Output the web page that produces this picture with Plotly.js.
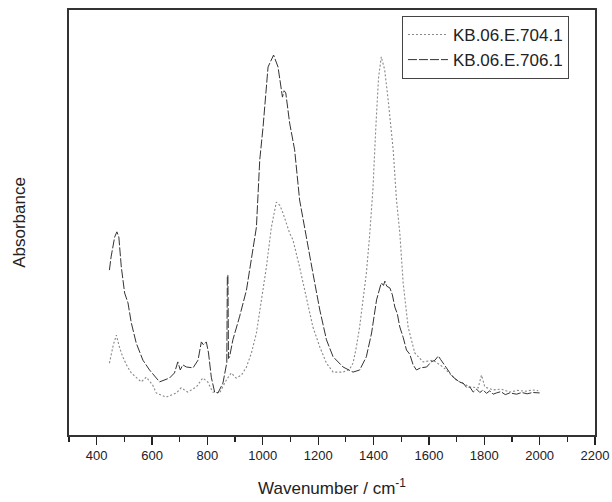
<!DOCTYPE html>
<html>
<head>
<meta charset="utf-8">
<script src="https://cdn.plot.ly/plotly-3.0.1.min.js"></script>
<style>html,body{margin:0;padding:0;background:#fff;}#chart{width:612px;height:502px;}</style>
</head>
<body>
<div id="chart"></div>
<script>
// KB.06.E.704.1 (dotted grey)
const wn704 = [446, 460, 471, 482, 494, 510, 525, 545, 561, 579, 602, 615, 651, 688, 705, 729, 760, 783, 801, 819, 844, 868, 886, 904, 923, 941, 959, 977, 995, 1013, 1031, 1049, 1062, 1073, 1097, 1109, 1133, 1158, 1181, 1206, 1230, 1254, 1290, 1314, 1326, 1338, 1350, 1362, 1374, 1386, 1398, 1408, 1418, 1428, 1440, 1453, 1471, 1483, 1495, 1507, 1525, 1549, 1579, 1615, 1651, 1700, 1748, 1778, 1790, 1802, 1832, 1860, 1893, 1920, 1950, 1975, 1995];
const abs704 = [0.169, 0.212, 0.235, 0.207, 0.184, 0.162, 0.146, 0.134, 0.125, 0.136, 0.118, 0.099, 0.089, 0.099, 0.111, 0.101, 0.113, 0.134, 0.125, 0.101, 0.099, 0.129, 0.146, 0.134, 0.141, 0.160, 0.193, 0.240, 0.318, 0.395, 0.489, 0.548, 0.540, 0.522, 0.475, 0.459, 0.395, 0.318, 0.254, 0.207, 0.169, 0.148, 0.148, 0.155, 0.169, 0.207, 0.255, 0.318, 0.380, 0.470, 0.580, 0.720, 0.840, 0.890, 0.860, 0.788, 0.671, 0.553, 0.475, 0.358, 0.254, 0.193, 0.172, 0.176, 0.160, 0.129, 0.113, 0.111, 0.141, 0.113, 0.106, 0.108, 0.101, 0.105, 0.103, 0.106, 0.104];

// KB.06.E.706.1 (dashed dark)
const wn706 = [446, 452, 465, 473, 480, 489, 501, 513, 525, 543, 567, 591, 627, 663, 681, 693, 702, 711, 724, 748, 766, 778, 786, 796, 804, 814, 826, 838, 856, 866, 870, 872, 874, 876, 880, 892, 916, 941, 959, 977, 989, 1001, 1019, 1039, 1055, 1071, 1077, 1083, 1097, 1115, 1133, 1158, 1181, 1206, 1230, 1254, 1290, 1326, 1350, 1374, 1393, 1411, 1428, 1436, 1441, 1448, 1459, 1468, 1477, 1486, 1495, 1507, 1519, 1531, 1543, 1555, 1570, 1592, 1608, 1622, 1634, 1642, 1651, 1665, 1676, 1688, 1700, 1712, 1724, 1736, 1748, 1760, 1772, 1784, 1796, 1808, 1820, 1832, 1844, 1860, 1876, 1892, 1917, 1935, 1955, 1975, 2000];
const abs706 = [0.388, 0.419, 0.466, 0.478, 0.466, 0.395, 0.334, 0.311, 0.264, 0.216, 0.176, 0.153, 0.125, 0.134, 0.146, 0.172, 0.153, 0.165, 0.160, 0.158, 0.176, 0.219, 0.212, 0.219, 0.193, 0.136, 0.101, 0.099, 0.122, 0.160, 0.170, 0.376, 0.376, 0.180, 0.184, 0.224, 0.278, 0.341, 0.412, 0.489, 0.647, 0.725, 0.866, 0.894, 0.866, 0.795, 0.810, 0.805, 0.734, 0.671, 0.553, 0.459, 0.381, 0.294, 0.224, 0.184, 0.160, 0.148, 0.153, 0.184, 0.240, 0.318, 0.358, 0.352, 0.362, 0.350, 0.346, 0.330, 0.301, 0.285, 0.254, 0.230, 0.200, 0.190, 0.165, 0.153, 0.158, 0.160, 0.172, 0.176, 0.186, 0.178, 0.169, 0.155, 0.146, 0.136, 0.130, 0.124, 0.122, 0.112, 0.113, 0.101, 0.108, 0.100, 0.106, 0.098, 0.104, 0.096, 0.099, 0.102, 0.095, 0.099, 0.096, 0.100, 0.097, 0.100, 0.099];

const seriesNames = ["KB.06.E.704.1", "KB.06.E.706.1"];

const traces = [
  {x: wn704, y: abs704, name: seriesNames[0], type: "scatter", mode: "lines",
   line: {color: "#888888", width: 1.1, dash: "2px,2px"}},
  {x: wn706, y: abs706, name: seriesNames[1], type: "scatter", mode: "lines",
   line: {color: "#333333", width: 1, dash: "9px,2px"}}
];

const layout = {
  width: 612, height: 502,
  margin: {l: 69, r: 17, t: 10, b: 67},
  paper_bgcolor: "#ffffff", plot_bgcolor: "#ffffff",
  font: {family: "Liberation Sans, Arial, sans-serif", color: "#222"},
  showlegend: true,
  legend: {x: 0.633, y: 0.986, xanchor: "left", yanchor: "top",
           bordercolor: "#444", borderwidth: 1, bgcolor: "#fff", itemwidth: 40,
           font: {size: 17, color: "#222"}, tracegroupgap: 0},
  xaxis: {range: [300, 2200], tick0: 0, dtick: 200, ticks: "outside", ticklen: 8, tickwidth: 1.3,
          tickcolor: "#222", showline: true, mirror: true, linecolor: "#333", linewidth: 1.6,
          showgrid: false, zeroline: false, tickfont: {size: 13, color: "#222"},
          minor: {dtick: 100, ticks: "outside", ticklen: 5, tickwidth: 1.3, tickcolor: "#222", showgrid: false},
          title: {text: "Wavenumber / cm<sup>-1</sup>", font: {size: 17, color: "#222"}, standoff: 20}},
  yaxis: {range: [0, 1], showticklabels: false, ticks: "", showline: true, mirror: true,
          linecolor: "#333", linewidth: 1.6, showgrid: false, zeroline: false,
          title: {text: "Absorbance", font: {size: 17, color: "#222"}, standoff: 37}}
};

Plotly.newPlot("chart", traces, layout, {displayModeBar: false, staticPlot: true});
</script>
</body>
</html>
